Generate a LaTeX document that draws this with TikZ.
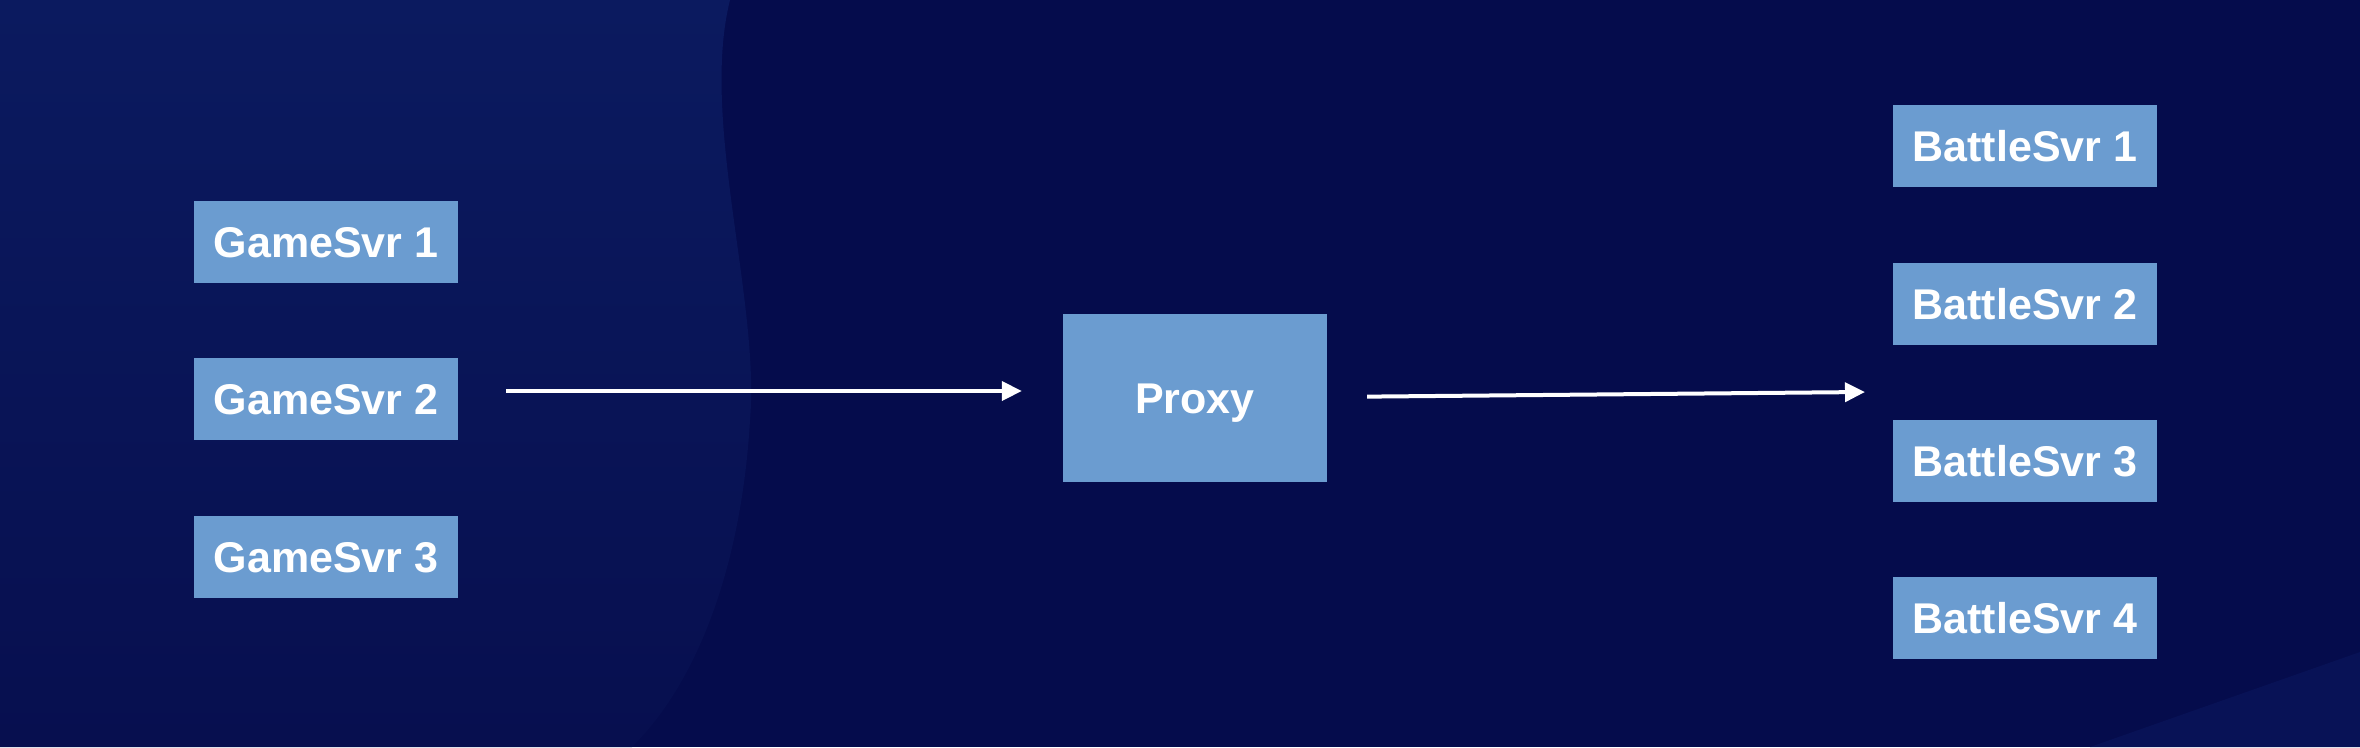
\documentclass[tikz,border=0pt]{standalone}
\usepackage{fontspec}
\setmainfont{Liberation Sans}
\usetikzlibrary{arrows.meta}
\definecolor{bgdark}{RGB}{5,12,76}
\definecolor{bgleftA}{RGB}{11,26,95}
\definecolor{bgleftB}{RGB}{7,15,79}
\definecolor{bgcorner}{RGB}{8,18,86}
\definecolor{boxblue}{RGB}{107,156,208}
\tikzset{
  srv/.style={fill=boxblue, draw=none, inner sep=0pt, minimum width=264pt, minimum height=82pt,
    text=white, font=\fontsize{43}{48}\selectfont\bfseries, text height=31pt, text depth=0pt},
  prx/.style={srv, minimum height=168pt},
  flow/.style={draw=white, line width=4pt, -{Triangle[length=20pt,width=19pt]}},
}
\begin{document}
\begin{tikzpicture}[x=1pt,y=-1pt]
\useasboundingbox (0,0) rectangle (2360,747);
\fill[bgdark] (0,0) rectangle (2360,747);
\shade[top color=bgleftA, bottom color=bgleftB]
  (0,0) -- (730,0) .. controls (700,120) and (760,300) .. (750,420)
  .. controls (742,560) and (700,680) .. (632,747) -- (0,747) -- cycle;
\fill[bgcorner] (2090,747) -- (2360,652) -- (2360,747) -- cycle;

\node[srv] (g1) at (326,242) {GameSvr 1};
\node[srv] (g2) at (326,399) {GameSvr 2};
\node[srv] (g3) at (326,557) {GameSvr 3};
\node[prx] (p) at (1195,398) {Proxy};
\node[srv] (b1) at (2025,146) {BattleSvr 1};
\node[srv] (b2) at (2025,304) {BattleSvr 2};
\node[srv] (b3) at (2025,461) {BattleSvr 3};
\node[srv] (b4) at (2025,618) {BattleSvr 4};
\coordinate (bt) at (1865,392);

\draw[flow, shorten <=48pt, shorten >=41pt] ([yshift=8pt]g2.east) -- ([yshift=7pt]p.west);
\draw[flow, shorten <=40pt] ([yshift=1pt]p.east) -- (bt);
\end{tikzpicture}
\end{document}
